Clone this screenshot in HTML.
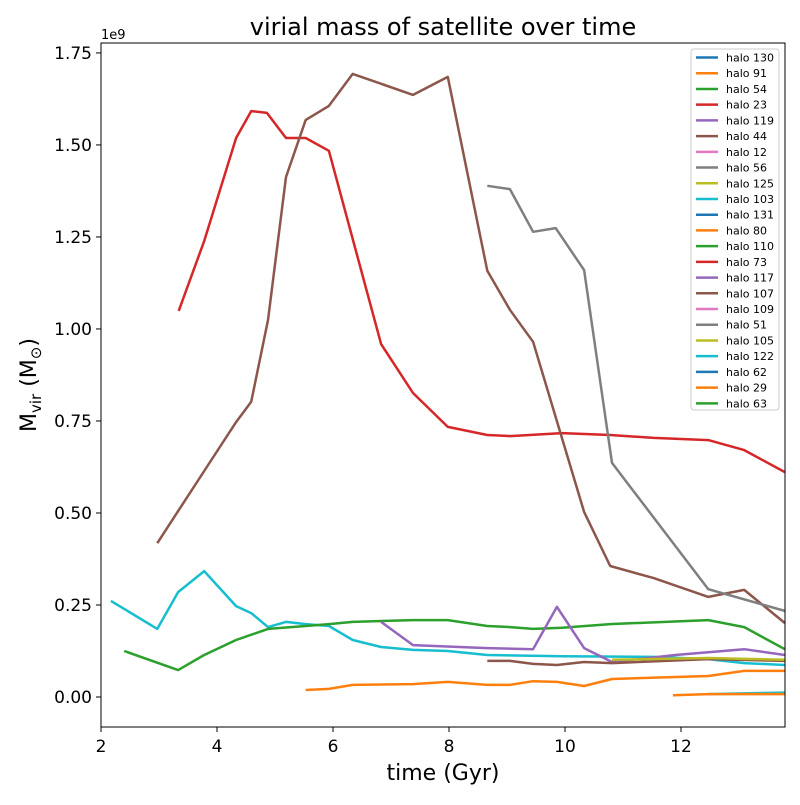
<!DOCTYPE html>
<html><head><meta charset="utf-8"><style>
body{margin:0;background:#fff}
svg{font-family:"DejaVu Sans","Liberation Sans",sans-serif}
</style></head><body>
<svg id="chart" width="800" height="800" xmlns="http://www.w3.org/2000/svg">
<rect width="800" height="800" fill="#fff"/>
<text x="443" y="35" font-size="24" text-anchor="middle">virial mass of satellite over time</text>
<text x="101" y="39" font-size="13">1e9</text>
<text x="443" y="780" font-size="22" text-anchor="middle">time (Gyr)</text>
<text transform="translate(36,385) rotate(-90)" font-size="22" text-anchor="middle">M<tspan font-size="15" dy="5">vir</tspan><tspan dy="-5"> (M</tspan><tspan font-size="15" dy="5">⊙</tspan><tspan dy="-5">)</tspan></text>
<g id="plot"></g>
<g id="axes"></g>
<g id="legend"></g>
</svg>
<script>
const tickX=[2,4,6,8,10,12];
const tickY=[0,0.25,0.5,0.75,1.0,1.25,1.5,1.75];
const tickYLabels=["0.00","0.25","0.50","0.75","1.00","1.25","1.50","1.75"];
const legendLabels=["halo 130","halo 91","halo 54","halo 23","halo 119","halo 44","halo 12","halo 56","halo 125","halo 103","halo 131","halo 80","halo 110","halo 73","halo 117","halo 107","halo 109","halo 51","halo 105","halo 122","halo 62","halo 29","halo 63"];
const palette=["#1f77b4","#ff7f0e","#2ca02c","#d62728","#9467bd","#8c564b","#e377c2","#7f7f7f","#bcbd22","#17becf"];
const t23=[3.34,3.78,4.33,4.59,4.86,5.19,5.53,5.93,6.83,7.38,7.98,8.66,9.05,9.95,10.78,11.53,12.47,13.09,13.79];
const m23=[1.049,1.239,1.519,1.592,1.587,1.519,1.519,1.484,0.959,0.826,0.734,0.712,0.709,0.717,0.712,0.704,0.698,0.671,0.611];
const t44=[2.97,3.33,3.78,4.33,4.59,4.88,5.19,5.53,5.93,6.34,7.38,7.98,8.66,9.05,9.45,10.33,10.78,11.53,12.47,13.09,13.79];
const m44=[0.418,0.505,0.614,0.747,0.802,1.024,1.413,1.568,1.606,1.693,1.636,1.685,1.158,1.052,0.965,0.503,0.356,0.323,0.272,0.291,0.201];
const t56=[8.66,9.05,9.45,9.84,10.33,10.81,12.47,13.79];
const m56=[1.389,1.380,1.264,1.274,1.160,0.636,0.293,0.234];
const t122=[2.17,2.97,3.33,3.78,4.33,4.59,4.88,5.19,5.53,5.93,6.34,6.83,7.38,7.98,8.66,9.95,11.53,12.47,13.09,13.79];
const m122=[0.261,0.185,0.285,0.342,0.247,0.228,0.190,0.204,0.198,0.193,0.155,0.136,0.128,0.125,0.114,0.111,0.109,0.103,0.092,0.087];
const t63=[2.40,3.33,3.78,4.33,4.88,5.53,5.93,6.34,7.38,7.98,8.66,9.05,9.45,9.95,10.78,12.47,13.09,13.79];
const m63=[0.125,0.073,0.114,0.155,0.185,0.193,0.198,0.204,0.209,0.209,0.193,0.190,0.185,0.188,0.198,0.209,0.190,0.130];
const t117=[6.83,7.38,8.66,9.45,9.86,10.33,10.81,11.90,13.09,13.79];
const m117=[0.204,0.141,0.133,0.130,0.245,0.133,0.095,0.114,0.130,0.114];
const t107=[8.66,9.05,9.45,9.86,10.33,10.81,12.47,13.79];
const m107=[0.098,0.098,0.090,0.087,0.095,0.092,0.103,0.098];
const t105=[10.81,12.47,13.79];
const m105=[0.101,0.106,0.101];
const t91=[5.53,5.93,6.34,7.38,7.98,8.66,9.05,9.45,9.86,10.33,10.81,12.47,13.09,13.79];
const m91=[0.019,0.022,0.033,0.035,0.041,0.033,0.033,0.043,0.041,0.030,0.049,0.057,0.071,0.071];
const t62=[12.47,13.79];
const m62=[0.008,0.012];
const t29=[11.86,12.47,13.79];
const m29=[0.005,0.008,0.008];
const series=[["halo-23",t23,m23,3],["halo-44",t44,m44,5],["halo-56",t56,m56,7],["halo-122",t122,m122,9],["halo-63",t63,m63,2],["halo-117",t117,m117,4],["halo-107",t107,m107,5],["halo-105",t105,m105,8],["halo-91",t91,m91,1],["halo-62",t62,m62,9],["halo-29",t29,m29,1]];
const L=101,R=785,T=43,B=727,xMin=2,xMax=13.793,yMin=-0.0815,yMax=1.777;
const xs=v=>L+(v-xMin)/(xMax-xMin)*(R-L);
const ys=v=>B-(v-yMin)/(yMax-yMin)*(B-T);
const NS="http://www.w3.org/2000/svg";
function mk(tag,attrs,parent){const e=document.createElementNS(NS,tag);for(const k in attrs)e.setAttribute(k,attrs[k]);parent.appendChild(e);return e;}
const plot=document.getElementById('plot'),axes=document.getElementById('axes'),leg=document.getElementById('legend');
const cp=mk('clipPath',{id:'clip'},plot);
mk('rect',{x:L,y:T,width:R-L,height:B-T},cp);
series.forEach(s=>{
  const p=s[1].map((t,i)=>xs(t).toFixed(1)+','+ys(s[2][i]).toFixed(1)).join(' ');
  const el=mk('polyline',{points:p,fill:'none',stroke:palette[s[3]],'stroke-width':2.5,'stroke-linejoin':'round','clip-path':'url(#clip)'},plot);
  
  
});
const frame=mk('rect',{x:L,y:T,width:R-L,height:B-T,fill:'none',stroke:'#000','stroke-width':1},axes);


tickX.forEach(v=>{
  mk('line',{x1:xs(v),x2:xs(v),y1:B,y2:B+5,stroke:'#000'},axes);
  const t=mk('text',{x:xs(v),y:B+25,'font-size':17,'text-anchor':'middle'},axes);t.textContent=v;
  
  
});
tickY.forEach((v,i)=>{
  mk('line',{x1:L-5,x2:L,y1:ys(v),y2:ys(v),stroke:'#000'},axes);
  const t=mk('text',{x:L-9,y:ys(v)+6,'font-size':17,'text-anchor':'end'},axes);t.textContent=tickYLabels[i];
  
  
});
const lb=mk('rect',{x:691,y:49,width:88,height:361,fill:'#fff',stroke:'#ccc',rx:3},leg);


legendLabels.forEach((lab,i)=>{
  const y=57.5+i*15.72;
  const g=mk('g',{},leg);
  
  
  mk('line',{x1:696,x2:718,y1:y,y2:y,stroke:palette[i%10],'stroke-width':2.5},g);
  const t=mk('text',{x:726,y:y+4,'font-size':11},g);t.textContent=lab;
});
</script>
</body></html>
